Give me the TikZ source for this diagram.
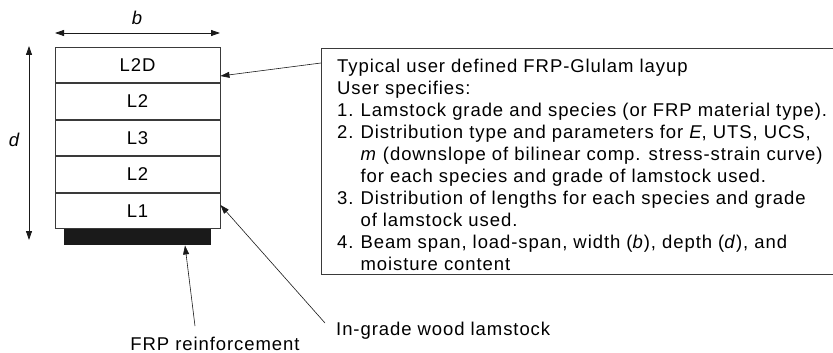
\documentclass[tikz,border=0pt]{standalone}
\usepackage{fontspec}
\setmainfont{Liberation Sans}[LetterSpace=5]
\usetikzlibrary{arrows.meta, positioning}
\definecolor{lineblack}{HTML}{1A1A1A}
\definecolor{boxgray}{HTML}{3A3A3A}
\tikzset{
  lam/.style={draw=boxgray, line width=0.9pt, minimum width=165pt, minimum height=35.6pt,
              inner sep=0pt, font=\fontsize{18.5}{22}\selectfont},
  lbl/.style={font=\fontsize{18.5}{22}\selectfont, inner sep=0pt},
  dim/.style={{Triangle[length=9pt,width=6pt]}-{Triangle[length=9pt,width=6pt]}, line width=0.8pt, draw=lineblack},
  lead/.style={-{Triangle[length=9pt,width=6pt]}, line width=0.6pt, draw=lineblack},
}
\begin{document}
\begin{tikzpicture}[x=1pt, y=-1pt]
  \useasboundingbox (0,0) rectangle (833,353);
  % glulam layup
  \node (l2d) [lam] at (137.5,64.8) {L2D};
  \node (l2a) [lam, below=0pt of l2d] {L2};
  \node (l3)  [lam, below=0pt of l2a] {L3};
  \node (l2b) [lam, below=0pt of l3] {L2};
  \node (l1)  [lam, below=0pt of l2b] {L1};
  \node (frp) [fill=lineblack, minimum width=147pt, minimum height=16pt, inner sep=0pt,
               below=0pt of l1] {};
  % dimensions
  \coordinate (bl) at (55,33);
  \coordinate (br) at (220,33);
  \draw[dim] (bl) -- (br);
  \node (b) [lbl] at (137,18) {\itshape b};
  \coordinate (dt) at (29,46);
  \coordinate (db) at (29,240);
  \draw[dim] (dt) -- (db);
  \node (d) [lbl] at (14,140) {\itshape d};
  % user input box
  \node (spec) [draw=boxgray, line width=0.9pt, anchor=north west, minimum width=520pt,
                minimum height=226pt, inner sep=0pt] at (321,48) {};
  \node (spectxt) [lbl, anchor=north west, align=left] at (337,57) {%
    \setlength{\tabcolsep}{0pt}%
    \begin{tabular}{@{}l@{\hspace{7pt}}l@{}}
      \multicolumn{2}{@{}l@{}}{Typical user defined FRP-Glulam layup}\\
      \multicolumn{2}{@{}l@{}}{User specifies:}\\
      1. & Lamstock grade and species (or FRP material type).\\
      2. & Distribution type and parameters for \textit{E}, UTS, UCS,\\
         & \textit{m} (downslope of bilinear comp. stress-strain curve)\\
         & for each species and grade of lamstock used.\\
      3. & Distribution of lengths for each species and grade\\
         & of lamstock used.\\
      4. & Beam span, load-span, width (\textit{b}), depth (\textit{d}), and\\
         & moisture content
    \end{tabular}};
  \coordinate (specin) at (321,63);
  \draw[lead] (specin) -- (l2d.east |- 0,76);
  % labels below
  \node (wood) [lbl, anchor=base west] at (336,335) {In-grade wood lamstock};
  \node (frplbl) [lbl, anchor=base] at (215,350) {FRP reinforcement};
  \coordinate (woodend) at (325,323);
  \draw[lead] (woodend) -- (l1.east |- 0,205);
  \coordinate (frpend) at (195,326);
  \draw[lead] (frpend) -- (frp.south -| 185,0);
\end{tikzpicture}
\end{document}
